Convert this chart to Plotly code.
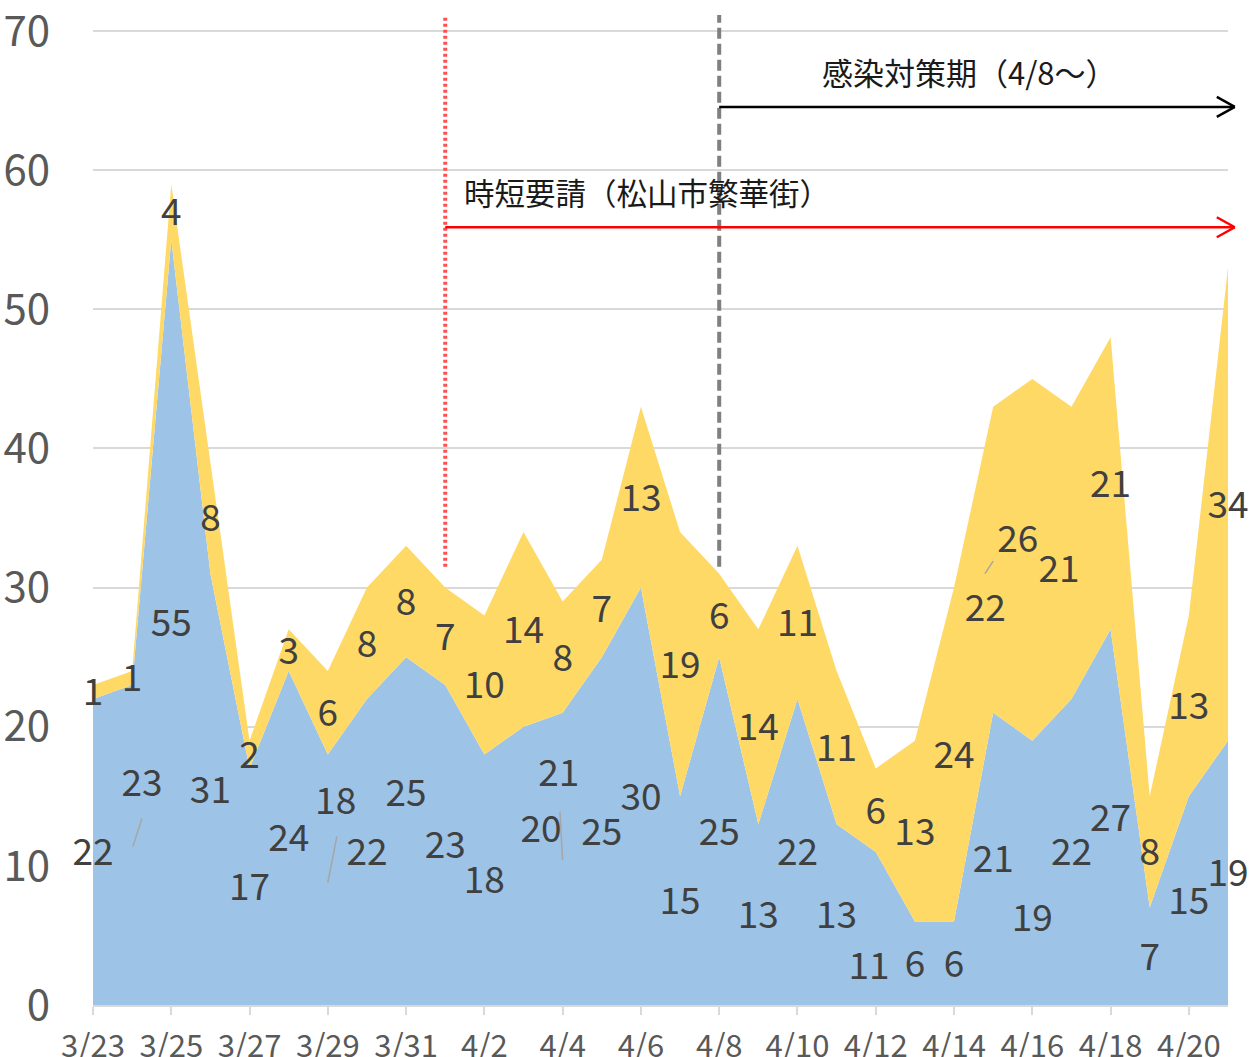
import plotly.graph_objects as go

# ---- data ----
dates = ["3/23", "3/24", "3/25", "3/26", "3/27", "3/28", "3/29", "3/30", "3/31", "4/1",
         "4/2", "4/3", "4/4", "4/5", "4/6", "4/7", "4/8", "4/9", "4/10", "4/11",
         "4/12", "4/13", "4/14", "4/15", "4/16", "4/17", "4/18", "4/19", "4/20", "4/21"]
blue_vals = [22, 23, 55, 31, 17, 24, 18, 22, 25, 23,
             18, 20, 21, 25, 30, 15, 25, 13, 22, 13,
             11, 6, 6, 21, 19, 22, 27, 7, 15, 19]
yellow_vals = [1, 1, 4, 8, 2, 3, 6, 8, 8, 7,
               10, 14, 8, 7, 13, 19, 6, 14, 11, 11,
               6, 13, 24, 22, 26, 21, 21, 8, 13, 34]
y_ticks = [0, 10, 20, 30, 40, 50, 60, 70]

# label adjustments (index -> (dx, dy)) for manually moved labels
blue_adj = {1: (0.25, 4.5), 6: (0.2, 5.7), 8: (0.0, 2.8), 11: (0.45, 2.7),
            12: (-0.1, 6.2), 20: (-0.17, -2.7), 24: (0.0, -3.25)}
yellow_adj = {23: (-0.2, -3.4), 24: (-0.37, 1.5), 25: (-0.32, -1.1)}
LABEL_SHIFT = -0.3  # small vertical nudge for text baseline

BLUE = "#9DC3E6"
YELLOW = "#FFD966"
LABEL = "#404040"
TICK = "#595959"
GRID = "#D9D9D9"
FONT = "Noto Sans CJK JP"

n = len(dates)
xs = list(range(n))
Y_TOP = 70.15

fig = go.Figure()
fig.add_trace(go.Scatter(x=xs, y=blue_vals, stackgroup="s", mode="none",
                         fillcolor=BLUE, line=dict(width=0), hoverinfo="skip"))
fig.add_trace(go.Scatter(x=xs, y=yellow_vals, stackgroup="s", mode="none",
                         fillcolor=YELLOW, line=dict(width=0), hoverinfo="skip"))

# data labels
bx, by, bt = [], [], []
for i, v in enumerate(blue_vals):
    dx, dy = blue_adj.get(i, (0, 0))
    bx.append(i + dx); by.append(v / 2 + dy + LABEL_SHIFT); bt.append(str(v))
yx, yy, yt = [], [], []
for i, (b, v) in enumerate(zip(blue_vals, yellow_vals)):
    dx, dy = yellow_adj.get(i, (0, 0))
    yx.append(i + dx); yy.append(b + v / 2 + dy + LABEL_SHIFT); yt.append(str(v))

fig.add_trace(go.Scatter(x=bx, y=by, text=bt, mode="text", textposition="middle center",
                         textfont=dict(family=FONT, size=37, color=LABEL),
                         cliponaxis=False, hoverinfo="skip"))
fig.add_trace(go.Scatter(x=yx, y=yy, text=yt, mode="text", textposition="middle center",
                         textfont=dict(family=FONT, size=37, color=LABEL),
                         cliponaxis=False, hoverinfo="skip"))

shapes = []
# leader lines
for (x0, y0, x1, y1) in [(1.02, 11.4, 1.25, 13.4), (6.0, 8.8, 6.23, 12.1),
                         (12.0, 10.4, 11.93, 13.9), (22.79, 31.0, 23.0, 31.9)]:
    shapes.append(dict(type="line", xref="x", yref="y", x0=x0, y0=y0, x1=x1, y1=y1,
                       line=dict(color="#A6A6A6", width=1.5)))

# vertical markers
i_short = dates.index("4/1")
i_meas = dates.index("4/8")
v_top = (1005 - 15) / 976
shapes.append(dict(type="line", xref="x", yref="paper", x0=i_short, x1=i_short,
                   y0=31.5 / Y_TOP, y1=v_top,
                   line=dict(color="#FF5050", width=4, dash="3px,3px")))
shapes.append(dict(type="line", xref="x", yref="paper", x0=i_meas, x1=i_meas,
                   y0=31.5 / Y_TOP, y1=v_top,
                   line=dict(color="#7F7F7F", width=4, dash="11px,5px")))

# horizontal arrows (paper x, data y)
def px(i):
    return i / (n - 1)

end_x = 1.006  # slightly past the right edge
head_dx = 18 / 1135
head_dy = 10 * 70 / 974
for start, yv, col in [(i_meas, 64.55, "#000000"), (i_short, 55.9, "#FF0000")]:
    shapes.append(dict(type="line", xref="paper", yref="y", x0=px(start), x1=end_x,
                       y0=yv, y1=yv, line=dict(color=col, width=2.5)))
    for s in (1, -1):
        shapes.append(dict(type="line", xref="paper", yref="y", x0=end_x - head_dx,
                           x1=end_x, y0=yv + s * head_dy, y1=yv,
                           line=dict(color=col, width=2.5)))

annotations = [
    dict(text="感染対策期（4/8～）", x=22.4, y=67.1, xref="x", yref="y",
         showarrow=False, xanchor="center", yanchor="middle",
         font=dict(family=FONT, size=31, color="#1A1A1A")),
    dict(text="時短要請（松山市繁華街）", x=9.43, y=58.4, xref="x", yref="y",
         showarrow=False, xanchor="left", yanchor="middle",
         font=dict(family=FONT, size=30.5, color="#1A1A1A")),
]

fig.update_layout(
    width=1249, height=1057, autosize=False,
    margin=dict(l=93, r=21, t=29, b=52),
    paper_bgcolor="white", plot_bgcolor="white",
    showlegend=False, shapes=shapes, annotations=annotations,
    xaxis=dict(range=[0, n - 1], tickmode="array",
               tickvals=xs[::2], ticktext=dates[::2], automargin=False,
               showgrid=False, zeroline=False, showline=True, linecolor=GRID, linewidth=1.5,
               ticks="outside", ticklen=8, tickcolor=GRID, tickwidth=1.5,
               tickfont=dict(family=FONT, size=31, color=TICK), ticklabelstandoff=5,
               ticklabeloverflow="allow"),
    yaxis=dict(range=[0, Y_TOP], tickmode="array", tickvals=y_ticks, automargin=False,
               showgrid=True, gridcolor=GRID, gridwidth=1.5, zeroline=False,
               showline=False, ticks="",
               tickfont=dict(family=FONT, size=42, color=TICK), ticklabelstandoff=42,
               ticklabeloverflow="allow"),
)

fig.write_html("out.html", config={"displayModeBar": False},
               post_script="document.body.style.margin='0px';")
